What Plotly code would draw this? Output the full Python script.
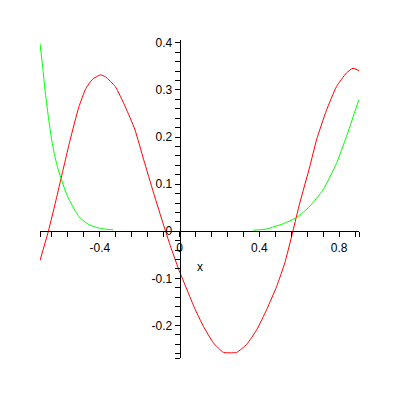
import plotly.graph_objects as go

# Red curve samples (x, y)
red_x = [-0.7, -0.658, -0.6165, -0.6, -0.55, -0.505, -0.47, -0.438, -0.397, -0.372, -0.322,
         -0.272, -0.225, -0.18, -0.13, -0.08, -0.047, -0.005, 0.037, 0.0785, 0.12,
         0.17, 0.22, 0.262, 0.287, 0.337, 0.387, 0.437, 0.487, 0.528, 0.562,
         0.57, 0.603, 0.653, 0.687, 0.737, 0.787, 0.837, 0.87, 0.9]
red_y = [-0.062, 0.0, 0.072, 0.102, 0.192, 0.264, 0.303, 0.322, 0.332, 0.328, 0.307,
         0.264, 0.217, 0.152, 0.081, 0.013, -0.030, -0.080, -0.124, -0.166, -0.202,
         -0.237, -0.257, -0.258, -0.257, -0.240, -0.209, -0.166, -0.117, -0.067, -0.011,
         0.003, 0.060, 0.137, 0.194, 0.257, 0.307, 0.336, 0.346, 0.341]

# Green curve: two pieces separated by a gap
green_left_x = [-0.7, -0.6865, -0.675, -0.658, -0.6415, -0.625, -0.608, -0.5915, -0.575, -0.555,
                -0.505, -0.455, -0.397, -0.333]
green_left_y = [0.398, 0.349, 0.300, 0.243, 0.194, 0.158, 0.130, 0.109, 0.088, 0.068,
                0.031, 0.014, 0.006, 0.003]
green_right_x = [0.37, 0.437, 0.52, 0.587, 0.653, 0.72, 0.787, 0.837, 0.9]
green_right_y = [0.002, 0.005, 0.016, 0.029, 0.053, 0.088, 0.144, 0.201, 0.280]

x_range = [-0.7, 0.9]
y_range = [-0.269, 0.406]
x_ticks = [-0.7, -0.4, 0, 0.4, 0.8, 0.9]
x_tick_text = ["", "-0.4", "0", "0.4", "0.8", ""]
y_ticks = [-0.269, -0.2, -0.1, 0, 0.1, 0.2, 0.3, 0.4]
y_tick_text = ["", "-0.2", "-0.1", "0", "0.1", "0.2", "0.3", "0.4"]

fig = go.Figure()
fig.add_trace(go.Scatter(x=red_x, y=red_y, mode="lines",
                         line=dict(color="#ff0000", width=1, shape="spline", smoothing=0.5), hoverinfo="skip"))
fig.add_trace(go.Scatter(x=green_left_x + [None] + green_right_x, y=green_left_y + [None] + green_right_y,
                         mode="lines", connectgaps=False,
                         line=dict(color="#00ff00", width=1, shape="spline", smoothing=0.5), hoverinfo="skip"))

x_pos = (0 - y_range[0]) / (y_range[1] - y_range[0])
y_pos = (0 - x_range[0]) / (x_range[1] - x_range[0])

fig.update_layout(
    width=400, height=400,
    margin=dict(l=40, r=41, t=40, b=42),
    paper_bgcolor="white", plot_bgcolor="white",
    showlegend=False,
    font=dict(family="Liberation Sans, Arial, sans-serif", size=12, color="black"),
    xaxis=dict(range=x_range, showgrid=False, zeroline=False, showline=True, linecolor="black", linewidth=1,
               anchor="free", position=x_pos, automargin=False,
               ticks="outside", ticklen=5, tickcolor="black", tickwidth=1,
               tickmode="array", tickvals=x_ticks, ticktext=x_tick_text,
               minor=dict(tickmode="linear", tick0=0, dtick=0.08, ticks="outside", ticklen=5,
                          tickcolor="black", showgrid=False)),
    yaxis=dict(range=y_range, showgrid=False, zeroline=False, showline=True, linecolor="black", linewidth=1,
               anchor="free", position=y_pos, automargin=False,
               ticks="outside", ticklen=5, tickcolor="black", tickwidth=1,
               tickmode="array", tickvals=y_ticks, ticktext=y_tick_text,
               minor=dict(tickmode="linear", tick0=0, dtick=0.02, ticks="outside", ticklen=5,
                          tickcolor="black", showgrid=False)),
    annotations=[dict(x=0.1, y=-0.075, xref="x", yref="y", text="x", showarrow=False,
                      font=dict(size=12, color="black"))],
)

fig.write_html("out.html", config={"displayModeBar": False, "staticPlot": True},
               post_script="document.body.style.margin='0';document.body.style.overflow='hidden';")
